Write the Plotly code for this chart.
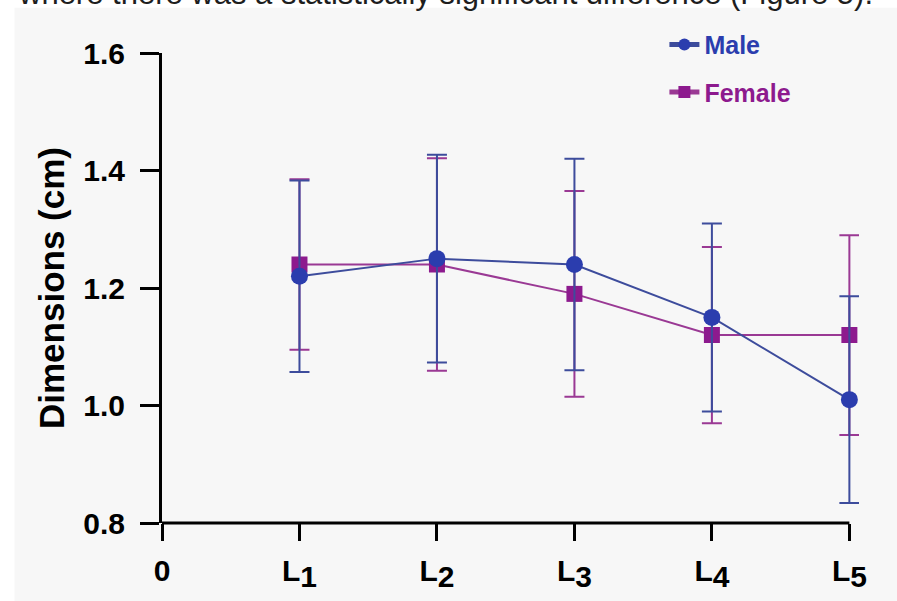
import plotly.graph_objects as go

categories = ["L1", "L2", "L3", "L4", "L5"]
x_pos = [1, 2, 3, 4, 5]
tick_vals = [0, 1, 2, 3, 4, 5]
tick_text = ["0"] + [f"L<sub><span style='font-size:30px'>{c[1]}</span></sub>" for c in categories]

male_mean = [1.22, 1.25, 1.24, 1.15, 1.01]
male_sd = [0.163, 0.177, 0.180, 0.160, 0.176]
female_mean = [1.24, 1.24, 1.19, 1.12, 1.12]
female_sd = [0.145, 0.181, 0.175, 0.150, 0.170]

MALE_MK = "#2b3dae"
MALE_LN = "#3d4c9c"
FEM_MK = "#8d1a8e"
FEM_LN = "#9a3994"
FONT = "Liberation Sans, Arial, sans-serif"

# plot-area geometry (pixels)
L, R_AX, T, B = 161.5, 849.0, 53.3, 523.0
XMAX = 5.07  # small pad so the L5 error caps are not clipped
R_PLOT = L + (R_AX - L) * XMAX / 5
PW, PH = R_PLOT - L, B - T


def px(xp):
    return (xp - L) / PW


def py(yp):
    return (B - yp) / PH


fig = go.Figure()
fig.add_trace(go.Scatter(
    x=x_pos, y=female_mean, mode="lines+markers",
    name=f"<span style='color:{FEM_MK}'>Female</span>",
    legendrank=2, legendgroup="f",
    line=dict(color=FEM_LN, width=2),
    marker=dict(symbol="square", size=16, color=FEM_MK),
    error_y=dict(type="data", array=female_sd, color=FEM_LN, thickness=2, width=10),
    cliponaxis=False,
))
fig.add_trace(go.Scatter(
    x=x_pos, y=male_mean, mode="lines+markers",
    name=f"<span style='color:{MALE_MK}'>Male</span>",
    legendrank=1, legendgroup="m",
    line=dict(color=MALE_LN, width=2),
    marker=dict(symbol="circle", size=17, color=MALE_MK),
    error_y=dict(type="data", array=male_sd, color=MALE_LN, thickness=2, width=10),
    cliponaxis=False,
))

# grey page panel
fig.add_shape(type="rect", xref="paper", yref="paper",
              x0=px(14), x1=px(897), y0=py(601), y1=py(8),
              fillcolor="#f7f7f7", line=dict(width=0), layer="below")
# x axis line from 0 to L5
fig.add_shape(type="line", xref="x", yref="paper", x0=0, x1=5, y0=0, y1=0,
              line=dict(color="black", width=3))

fig.add_annotation(
    text="where there was a statistically significant difference (Figure 5).",
    xref="paper", yref="paper", x=px(15), y=py(13),
    xanchor="left", yanchor="bottom", showarrow=False,
    font=dict(family=FONT, size=31, color="#1e1e1e"),
)

fig.update_layout(
    width=897, height=601,
    margin=dict(l=L, r=897 - R_PLOT, t=T, b=601 - B),
    paper_bgcolor="white", plot_bgcolor="rgba(0,0,0,0)",
    font=dict(family=FONT, color="black"),
    showlegend=True,
    legend=dict(
        x=px(664), y=py(22),
        xanchor="left", yanchor="top",
        bgcolor="rgba(0,0,0,0)", tracegroupgap=12,
        font=dict(family=FONT, size=25, weight="bold"),
        itemsizing="constant",
    ),
    xaxis=dict(
        range=[0, XMAX], tickvals=tick_vals, ticktext=tick_text,
        showgrid=False, zeroline=False, showline=False, automargin=False,
        ticks="outside", ticklen=17, tickwidth=3, tickcolor="black",
        ticklabelstandoff=4,
        tickfont=dict(family=FONT, size=30, weight="bold", color="black"),
    ),
    yaxis=dict(
        range=[0.8, 1.6], tickvals=[0.8, 1.0, 1.2, 1.4, 1.6], tickformat=".1f",
        showgrid=False, zeroline=False, showline=True, automargin=False,
        linecolor="black", linewidth=3,
        ticks="outside", ticklen=19, tickwidth=3, tickcolor="black",
        ticklabelstandoff=9,
        tickfont=dict(family=FONT, size=30, weight="bold", color="black"),
        title=dict(text="Dimensions (cm)", standoff=9,
                   font=dict(family=FONT, size=35, weight="bold", color="black")),
    ),
)

fig.write_html("out.html", config={"displayModeBar": False},
               post_script="document.body.style.margin='0px';")
